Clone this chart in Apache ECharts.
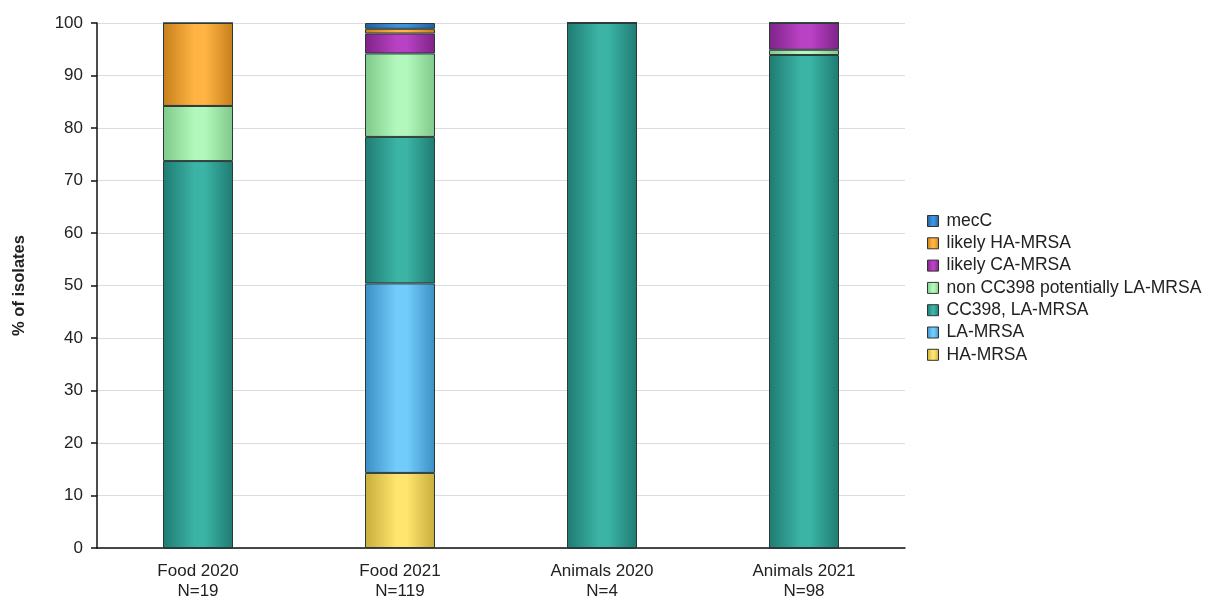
<!DOCTYPE html>
<html>
<head>
<meta charset="utf-8">
<script src="https://cdn.jsdelivr.net/npm/echarts@6/dist/echarts.min.js"></script>
<style>html,body{margin:0;padding:0;background:#fff}#c{width:1220px;height:601px}</style>
</head>
<body>
<div id="c"></div>
<script>
const categories = ['Food 2020\nN=19', 'Food 2021\nN=119', 'Animals 2020\nN=4', 'Animals 2021\nN=98'];
const seriesNames = ['HA-MRSA', 'LA-MRSA', 'CC398, LA-MRSA', 'non CC398 potentially LA-MRSA', 'likely CA-MRSA', 'likely HA-MRSA', 'mecC'];
const haMRSA      = [0, 14.3, 0, 0];
const laMRSA      = [0, 36.1, 0, 0];
const cc398       = [73.7, 27.9, 100, 93.9];
const nonCC398    = [10.5, 15.9, 0, 1.0];
const likelyCA    = [0, 3.8, 0, 5.1];
const likelyHA    = [15.8, 0.9, 0, 0];
const mecC        = [0, 1.1, 0, 0];
const seriesData = [haMRSA, laMRSA, cc398, nonCC398, likelyCA, likelyHA, mecC];
const yTicks = [0, 10, 20, 30, 40, 50, 60, 70, 80, 90, 100];

// styling (not data)
const palette = [
  ['#c9ad3c', '#ffe46e'],  // HA-MRSA
  ['#3c8fc4', '#72ccfb'],  // LA-MRSA
  ['#1f7b72', '#3bb3a5'],  // CC398
  ['#7fc98a', '#b2f8bc'],  // non CC398
  ['#7e2388', '#b941c4'],  // likely CA
  ['#c77f1c', '#ffb443'],  // likely HA
  ['#1f5f9e', '#3e93df']   // mecC
];
function grad(p) {
  return new echarts.graphic.LinearGradient(0, 0, 1, 0, [
    {offset: 0, color: p[0]},
    {offset: 0.45, color: p[1]},
    {offset: 0.6, color: p[1]},
    {offset: 1, color: p[0]}
  ]);
}

const chart = echarts.init(document.getElementById('c'), null, {renderer: 'canvas'});
const series = seriesNames.map((name, i) => ({
  name: name,
  type: 'bar',
  stack: 'total',
  barWidth: 70,
  data: seriesData[i],
  itemStyle: {color: grad(palette[i]), borderColor: '#2b3a3a', borderWidth: 1},
  emphasis: {disabled: true}
}));

const FONT = 'Liberation Sans, Arial, sans-serif';
chart.setOption({
  animation: false,
  textStyle: {fontFamily: FONT},
  grid: {left: 97, right: 315, top: 23, bottom: 52},
  legend: {
    orient: 'vertical',
    left: 922,
    top: 207,
    icon: 'rect',
    itemWidth: 11,
    itemHeight: 11,
    itemGap: 4.3,
    data: seriesNames.slice().reverse(),
    textStyle: {fontFamily: FONT, fontSize: 17.5, color: '#222', lineHeight: 17, padding: [0, 0, 0, 3]},
    itemStyle: {borderColor: '#333', borderWidth: 1}
  },
  xAxis: {
    type: 'category',
    data: categories,
    axisLine: {lineStyle: {color: '#111', width: 1.5}},
    axisTick: {show: false},
    axisLabel: {fontFamily: FONT, fontSize: 17, color: '#222', lineHeight: 19.5, margin: 14}
  },
  yAxis: {
    type: 'value',
    min: 0,
    max: 100,
    interval: 10,
    name: '% of isolates',
    nameLocation: 'middle',
    nameGap: 69,
    nameTextStyle: {fontFamily: FONT, fontSize: 16.5, fontWeight: 'bold', color: '#222'},
    axisLine: {show: true, lineStyle: {color: '#111', width: 1.5}},
    axisTick: {show: true, inside: false, length: 6, lineStyle: {color: '#111', width: 1.5}},
    axisLabel: {fontFamily: FONT, fontSize: 17, color: '#222', margin: 14, formatter: v => yTicks.includes(v) ? String(v) : ''},
    splitLine: {lineStyle: {color: '#dcdcdc'}}
  },
  series: series
});
</script>
</body>
</html>
